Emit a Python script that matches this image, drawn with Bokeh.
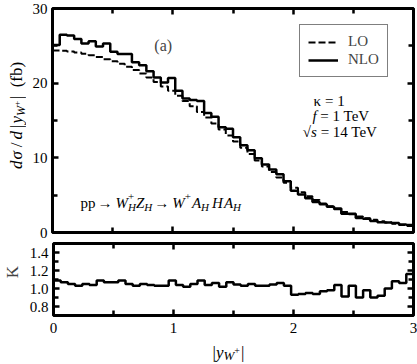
import math
from bokeh.plotting import figure
from bokeh.layouts import column, row
from bokeh.models import (Label, Legend, LegendItem, LinearAxis, FixedTicker,
                          Range1d, PrintfTickFormatter)
from bokeh.embed import file_html
from bokeh.resources import INLINE

# ---------------- data ----------------
bin_edges = [round(0.06 * i, 2) for i in range(51)]
lo_xsec = [24.39, 24.35, 24.25, 24.1, 23.95, 23.75, 23.5, 23.2, 22.95, 22.6,
           22.2, 21.75, 21.3, 20.75, 20.15, 19.55, 19.0, 18.3, 17.6, 16.9,
           16.15, 15.4, 14.6, 13.8, 13.0, 12.2, 11.35, 10.5, 9.65, 8.85,
           8.1, 7.35, 6.65, 6.0, 5.4, 4.85, 4.35, 3.9, 3.5, 3.1,
           2.75, 2.45, 2.15, 1.9, 1.7, 1.5, 1.33, 1.17, 1.02, 0.87]
nlo_xsec = [25.1, 26.5, 26.4, 25.9, 25.3, 25.6, 24.9, 25.3, 24.2, 23.9,
            23.9, 22.8, 22.4, 21.6, 20.75, 20.1, 20.7, 19.0, 17.95, 17.75,
            17.6, 16.0, 15.5, 14.1, 13.9, 12.75, 11.7, 11.0, 9.95, 9.1,
            8.45, 7.8, 6.85, 5.6, 5.1, 4.6, 4.1, 3.8, 3.45, 3.2,
            2.5, 2.5, 1.95, 1.85, 1.55, 1.38, 1.33, 1.26, 1.08, 1.0]
k_factor = [1.09, 1.07, 1.05, 1.03, 1.05, 1.04, 1.09, 1.07, 1.07, 1.09,
            1.05, 1.03, 1.05, 1.04, 1.03, 1.03, 1.09, 1.04, 1.02, 1.05,
            1.09, 1.04, 1.06, 1.02, 1.07, 1.045, 1.03, 1.05, 1.03, 1.03,
            1.045, 1.06, 1.03, 0.93, 0.94, 0.95, 0.94, 0.97, 0.98, 1.04,
            0.91, 1.03, 0.90, 0.98, 0.90, 0.92, 1.00, 1.08, 1.06, 1.16]

x_major = [0, 1, 2, 3]
x_minor = [0.5, 1.5, 2.5]
y_major = [0, 10, 20, 30]
y_minor = [5, 15, 25]
k_major = [0.8, 1.0, 1.2, 1.4]
k_minor = [0.7, 0.9, 1.1, 1.3, 1.5]
legend_labels = ["LO", "NLO"]

FONT = "Liberation Serif"

ROMAN = {' ': 0.25, 'p': 0.5, '(': 0.333, ')': 0.333, 'a': 0.444, 'b': 0.5,
         'f': 0.333, '=': 0.564, '1': 0.5, '4': 0.5, 'T': 0.611, 'e': 0.444,
         'V': 0.722, '|': 0.2, '/': 0.278, '+': 0.564, '→': 1.0, 'κ': 0.55,
         '√': 0.55, 'H': 0.722}
ITALIC = {'W': 0.833, 'Z': 0.556, 'A': 0.611, 'H': 0.722, 'y': 0.444,
          'd': 0.5, 'f': 0.278, 's': 0.389, 'σ': 0.55, '/': 0.278, ' ': 0.25}


def text_width(text, italic, size):
    table = ITALIC if italic else ROMAN
    return sum(table.get(c, 0.5) for c in text) * size


def add_runs(p, x, y, runs, rotated=False):
    """runs: (text, italic, size, baseline_shift[, advance_override, extra_gap])"""
    off = 0.0
    for run in runs:
        text, italic, size, shift = run[:4]
        adv = run[4] if len(run) > 4 else None
        gap = run[5] if len(run) > 5 else 0.0
        off += gap
        lead = len(text) - len(text.lstrip(' '))
        core = text.strip(' ')
        trail = len(text) - len(text.rstrip(' '))
        off += text_width(' ' * lead, italic, size)
        kw = dict(x=x, y=y, text=core, text_font=FONT,
                  text_font_size=f"{size}px",
                  text_font_style="italic" if italic else "normal",
                  text_align="left", text_baseline="alphabetic",
                  text_color="black")
        if rotated:
            kw.update(angle=math.pi / 2, x_offset=-shift, y_offset=off)
        else:
            kw.update(x_offset=off, y_offset=shift)
        p.add_layout(Label(**kw))
        if adv is None:
            off += text_width(core, italic, size) + text_width(' ' * trail, italic, size)
        else:
            off += adv


def style_axis(ax, ticker, labels=True, fmt=None):
    ax.ticker = ticker
    ax.axis_line_color = None
    ax.major_tick_in = 6
    ax.major_tick_out = 0
    ax.minor_tick_in = 5
    ax.minor_tick_out = 0
    ax.major_tick_line_width = 2.5
    ax.minor_tick_line_width = 2.5
    ax.major_tick_line_color = "black"
    ax.minor_tick_line_color = "black"
    if labels:
        ax.major_label_text_font = FONT
        ax.major_label_text_font_size = "15px"
        ax.major_label_text_color = "black"
        ax.major_label_standoff = 5
        if fmt:
            ax.formatter = PrintfTickFormatter(format=fmt)
    else:
        ax.major_label_overrides = {t: "" for t in ticker.ticks}
        ax.major_label_text_font_size = "1px"
        ax.major_label_standoff = 0


def base_fig(width, height, y_range, top, bottom, left):
    p = figure(width=width, height=height, x_range=Range1d(0, 3), y_range=y_range,
               output_backend="svg", toolbar_location=None,
               min_border_left=left, min_border_right=4,
               min_border_top=top, min_border_bottom=bottom)
    p.grid.visible = False
    p.outline_line_color = "black"
    p.outline_line_width = 3
    p.background_fill_color = "white"
    p.border_fill_color = "white"
    return p


def label_fig(width, height, x_range=None):
    f = figure(width=width, height=height,
               x_range=x_range if x_range is not None else Range1d(0, width),
               y_range=Range1d(0, height), x_axis_type=None, y_axis_type=None,
               output_backend="svg", toolbar_location=None,
               min_border=0, min_border_left=0, min_border_right=0,
               min_border_top=0, min_border_bottom=0)
    f.grid.visible = False
    f.outline_line_color = None
    f.background_fill_color = "white"
    f.border_fill_color = "white"
    return f


LAB_W = 26
PLOT_W = 391
H1 = 240
H2 = 98
H3 = 26

# ---------------- main panel ----------------
p1 = base_fig(PLOT_W, H1, Range1d(0, 30), 8, 8, 26)
style_axis(p1.xaxis[0], FixedTicker(ticks=x_major, minor_ticks=x_minor), labels=False)
style_axis(p1.yaxis[0], FixedTicker(ticks=y_major, minor_ticks=y_minor))
top1 = LinearAxis()
style_axis(top1, FixedTicker(ticks=x_major, minor_ticks=x_minor), labels=False)
p1.add_layout(top1, "above")
right1 = LinearAxis()
style_axis(right1, FixedTicker(ticks=y_major, minor_ticks=y_minor), labels=False)
p1.add_layout(right1, "right")

r_lo = p1.step(bin_edges, lo_xsec + [lo_xsec[-1]], mode="after",
               line_dash="7 3", line_width=2, line_color="black")
r_nlo = p1.step(bin_edges, nlo_xsec + [nlo_xsec[-1]], mode="after",
                line_width=2.5, line_color="black")

legend = Legend(items=[LegendItem(label=legend_labels[0], renderers=[r_lo]),
                       LegendItem(label=legend_labels[1], renderers=[r_nlo])],
                location=(247, 155), border_line_color="black",
                border_line_width=1.5, padding=8, spacing=1, margin=0,
                glyph_width=30, glyph_height=16, label_height=16,
                label_standoff=10, label_text_font=FONT,
                label_text_font_size="15px", background_fill_alpha=1)
p1.add_layout(legend)

p1.add_layout(Label(x=0.92, y=25.0, text="(a)", text_font=FONT,
                    text_font_size="16px", text_align="center",
                    text_baseline="middle"))

add_runs(p1, 2.17, 17.6, [("κ = 1", False, 15, 0)])
add_runs(p1, 2.16, 15.6, [("f", True, 15, 0), (" = 1 TeV", False, 15, 0)])
add_runs(p1, 2.08, 13.5, [("√", False, 15, 0), ("s", True, 15, 0),
                          (" = 14 TeV", False, 15, 0)])

add_runs(p1, 0.233, 4.0, [
    ("pp", False, 15, 0), ("→", False, 15, 0, 16, 2),
    ("W", True, 15, 0, None, 2), ("+", False, 11, 6, 0), ("H", True, 11, -4),
    ("Z", True, 15, 0), ("H", True, 11, -4), ("→", False, 15, 0, 16, 2),
    ("W", True, 15, 0, None, 2), ("+", False, 11, 6), ("A", True, 15, 0, None, 1),
    ("H", True, 11, -4), ("H", True, 15, 0, None, 3), ("A", True, 15, 0, None, 1),
    ("H", True, 11, -4)])

# y-axis title of the main panel (own strip, px coordinates)
lab1 = label_fig(LAB_W, H1)
add_runs(lab1, 16, H1 - 172, [
    ("d", True, 17, 0), ("σ", True, 17, 0, None, 1), ("/", False, 17, 0, None, 3),
    ("d", True, 17, 0, None, 3), ("|", False, 17, 0, None, 3), ("y", True, 17, 0, None, 1),
    ("W", True, 12, -4), ("+", False, 9, 0), ("|", False, 17, 0, None, 2),
    (" (fb)", False, 17, 0, None, 4)], rotated=True)

# ---------------- ratio panel ----------------
p2 = base_fig(PLOT_W, H2, Range1d(0.7, 1.5), 3, 23, 26)
style_axis(p2.xaxis[0], FixedTicker(ticks=x_major, minor_ticks=x_minor))
style_axis(p2.yaxis[0], FixedTicker(ticks=k_major, minor_ticks=k_minor), fmt="%.1f")
p2.xaxis[0].major_label_standoff = 7
top2 = LinearAxis()
style_axis(top2, FixedTicker(ticks=x_major, minor_ticks=x_minor), labels=False)
p2.add_layout(top2, "above")
right2 = LinearAxis()
style_axis(right2, FixedTicker(ticks=k_major, minor_ticks=k_minor), labels=False)
p2.add_layout(right2, "right")

p2.step(bin_edges, k_factor + [k_factor[-1]], mode="after",
        line_width=2.5, line_color="black")

lab2 = label_fig(LAB_W, H2)
lab2.add_layout(Label(x=12, y=H2 - 39, text="K", text_font=FONT,
                      text_font_size="17px", angle=math.pi / 2,
                      text_align="center", text_baseline="middle"))

# x-axis title strip, sharing the ratio panel's x scale
px_per_unit = (PLOT_W - 26 - 4) / 3.0
lab3 = label_fig(LAB_W + PLOT_W, H3,
                 x_range=Range1d(-(LAB_W + 26) / px_per_unit,
                                 3 + 4 / px_per_unit))
add_runs(lab3, 1.33, 12, [
    ("|", False, 17, 0), ("y", True, 17, 0), ("W", True, 13, -3),
    ("+", False, 10, 2), ("|", False, 17, 0, None, 1)])

layout = column(row(lab1, p1, spacing=0), row(lab2, p2, spacing=0), lab3, spacing=0)
open("out.html", "w").write(file_html(layout, INLINE))
